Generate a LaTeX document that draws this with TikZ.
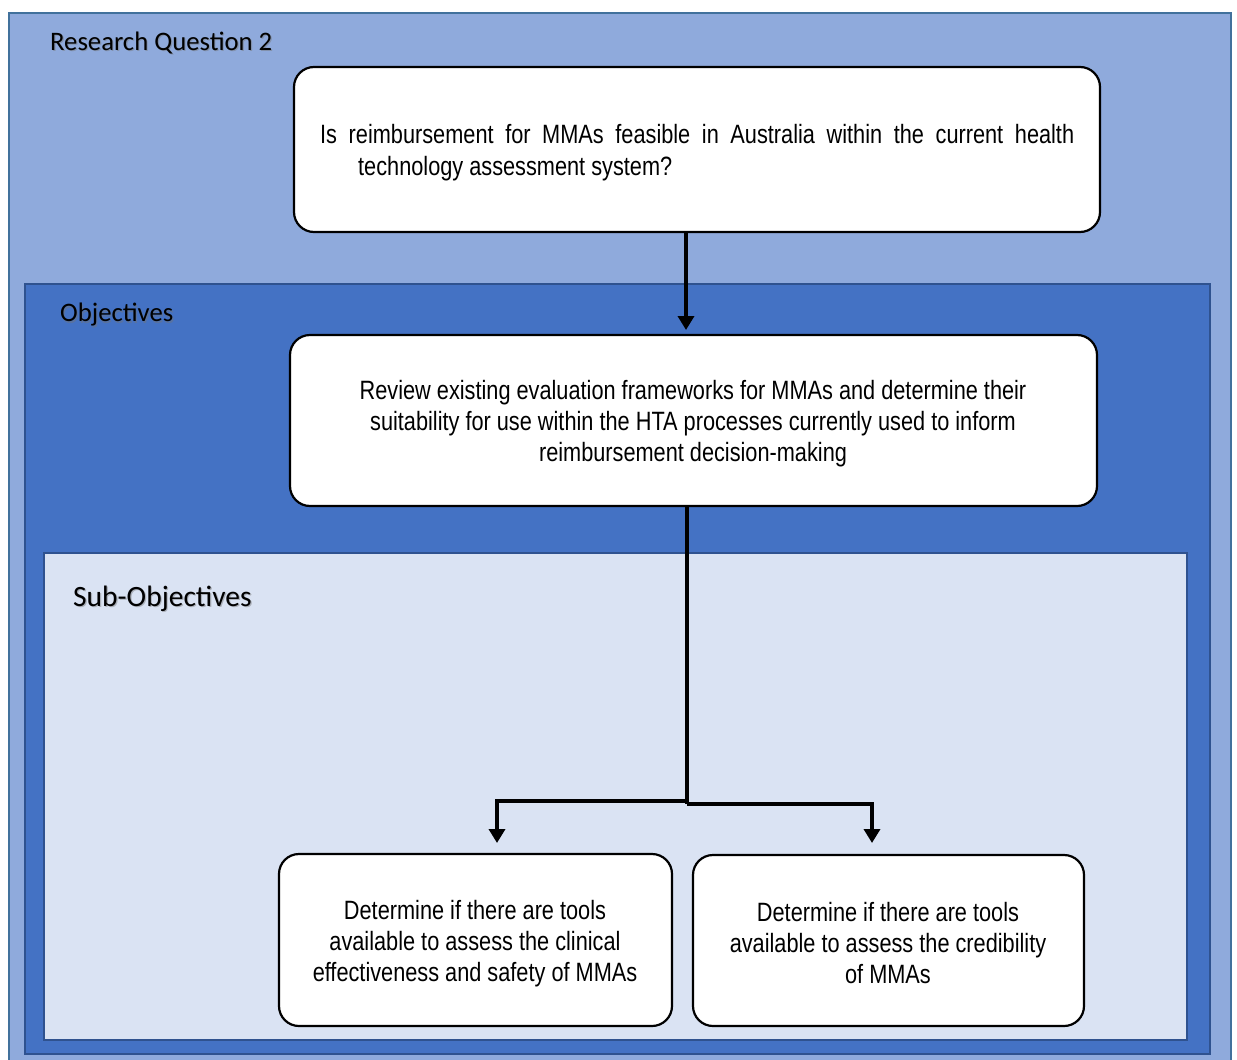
\documentclass[tikz,border=0pt]{standalone}
\usepackage{fontspec}
\setmainfont{Liberation Sans}
\newfontfamily\lblfont{Carlito}
\newfontfamily\narrowfont{Liberation Sans}[FakeStretch=0.82]
\usetikzlibrary{arrows.meta}
\definecolor{rqfill}{HTML}{8FAADC}
\definecolor{rqedge}{HTML}{41719C}
\definecolor{objfill}{HTML}{4472C4}
\definecolor{objedge}{HTML}{2F528F}
\definecolor{subfill}{HTML}{DAE3F3}
\tikzset{
  panel/.style={line width=2pt},
  stepbox/.style={draw=black, fill=white, line width=2.2pt, rounded corners=20pt},
  boxtext/.style={font=\narrowfont\fontsize{26.5}{31}\selectfont, align=center, inner sep=0pt},
  panellabel/.style={font=\lblfont\fontsize{26.7}{30}\selectfont, anchor=west, inner sep=0pt},
  labelshadow/.style={panellabel, text=black!55, opacity=0.45},
  flow/.style={line width=3.6pt, -{Triangle[width=16pt,length=14pt]}},
  joinline/.style={line width=3.6pt}
}
\begin{document}
\begin{tikzpicture}[x=1pt,y=-1pt]
\useasboundingbox (0,0) rectangle (1237,1060);
\clip (0,0) rectangle (1237,1060);

% nested panels
\draw[panel, fill=rqfill, draw=rqedge] (9,13) rectangle (1231,1075);
\draw[panel, fill=objfill, draw=objedge] (25,284) rectangle (1210,1054);
\draw[panel, fill=subfill, draw=objedge] (44,553) rectangle (1187,1040);

% panel titles
\node[labelshadow] (rqs) at (51.2,44.2) {Research Question 2};
\node[panellabel] (rq) at (50,43) {Research Question 2};
\node[labelshadow] (objs) at (61.2,316.2) {Objectives};
\node[panellabel] (obj) at (60,315) {Objectives};
\node[labelshadow, font=\lblfont\fontsize{29.5}{32}\selectfont] (subs) at (74.2,600.2) {Sub-Objectives};
\node[panellabel, font=\lblfont\fontsize{29.5}{32}\selectfont] (sub) at (73,599) {Sub-Objectives};

% boxes
\draw[stepbox] (294,67) rectangle (1100,232);
\coordinate (b1s) at (686,232);
\node[font=\narrowfont\fontsize{26.5}{32}\selectfont, align=left, inner sep=0pt, anchor=west] (q)
  at (320,153) {\makebox[754pt][s]{Is reimbursement for MMAs feasible in Australia within the current health}\\
  \hspace*{38pt}technology assessment system?};

\draw[stepbox] (290,335) rectangle (1097,506);
\node[boxtext] (o) at (693,424) {Review existing evaluation frameworks for MMAs and determine their\\suitability for use within the HTA processes currently used to inform\\reimbursement decision-making};
\coordinate (b2n) at (686,335);
\coordinate (b2s) at (687,506);

\draw[stepbox] (279,854) rectangle (672,1026);
\node[boxtext] (s1) at (475,944) {Determine if there are tools\\available to assess the clinical\\effectiveness and safety of MMAs};

\draw[stepbox] (693,855) rectangle (1084,1026);
\node[boxtext] (s2) at (888,943) {Determine if there are tools\\available to assess the credibility\\of MMAs};

% connectors
\draw[flow] (b1s) -- ([yshift=5pt]b2n);
\coordinate (jl) at (687,801);
\coordinate (jr) at (687,804);
\coordinate (tl) at (497,843);
\coordinate (tr) at (872,843);
\draw[joinline] (b2s) -- (jr);
\draw[flow] (jl) -| (tl);
\draw[flow] (jr) -| (tr);
\end{tikzpicture}
\end{document}
